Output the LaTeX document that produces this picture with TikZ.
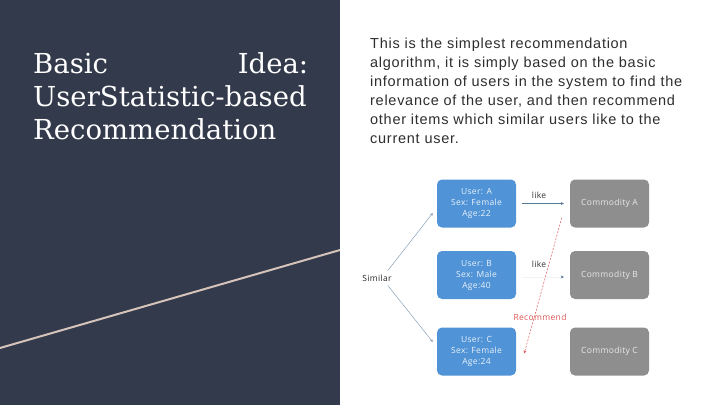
\documentclass[tikz,border=0pt]{standalone}
\usepackage{fontspec}
\setmainfont{Liberation Sans}
\newfontfamily\titlefont{DejaVu Serif}
\newfontfamily\diagfont[LetterSpace=4]{Open Sans}
\newfontfamily\parafont[LetterSpace=5]{Liberation Sans}
\usetikzlibrary{arrows.meta,calc}
\definecolor{panel}{HTML}{323A4B}
\definecolor{beige}{HTML}{D6C4BB}
\definecolor{ublue}{HTML}{5093D6}
\definecolor{cgray}{HTML}{8E8E8E}
\definecolor{arr}{HTML}{5A7A9A}
\definecolor{recred}{HTML}{DD5555}
\tikzset{
  userbox/.style={fill=ublue, rounded corners=5pt, minimum width=79pt, minimum height=48pt, inner sep=0pt,
    align=center, text=white!88!ublue, font=\diagfont\fontsize{8.5}{11}\selectfont},
  combox/.style={fill=cgray, rounded corners=5pt, minimum width=79pt, minimum height=48pt, inner sep=0pt,
    align=center, text=white!80!cgray, font=\diagfont\fontsize{8.5}{11}\selectfont},
  lbl/.style={font=\diagfont\fontsize{8.5}{10}\selectfont, inner sep=0pt},
  likearrow/.style={draw=arr, line width=0.6pt, -{Stealth[length=3pt,width=3pt]}},
  simarrow/.style={draw=arr!70, line width=0.5pt, -{Stealth[length=3pt,width=3pt]}},
}
\begin{document}
\begin{tikzpicture}[x=1pt,y=-1pt]
\useasboundingbox (0,0) rectangle (720,405);
\fill[white] (0,0) rectangle (720,405);
\fill[panel] (0,0) rectangle (340,405);
\draw[beige, line width=2pt] (0,348) -- (340,250);
% title
\node[anchor=north west, inner sep=0pt, text width=275pt, text=white, align=justify,
  font=\titlefont\fontsize{27.5}{33}\selectfont] (title) at (33,52)
  {Basic\hfill Idea:\\UserStatistic-based\\Recommendation};
% paragraph
\node[anchor=north west, inner sep=0pt, text width=345pt, align=left, text=black!82,
  font=\parafont\fontsize{14.5}{19}\selectfont] (para) at (370,38)
  {This is the simplest recommendation\\
   algorithm, it is simply based on the basic\\
   information of users in the system to find the\\
   relevance of the user, and then recommend\\
   other items which similar users like to the\\
   current user.};
% diagram
\node[userbox] (ua) at (476.5,203.5) {User: A\\Sex: Female\\Age:22};
\node[userbox] (ub) at (476.5,275) {User: B\\Sex: Male\\Age:40};
\node[userbox] (uc) at (476.5,351.5) {User: C\\Sex: Female\\Age:24};
\node[combox] (ca) at (609.5,203.5) {Commodity A};
\node[combox] (cb) at (609.5,275) {Commodity B};
\node[combox] (cc) at (609.5,351.5) {Commodity C};
\node[lbl, text=black!85] (sim) at (377,278) {Similar};
\node[lbl, text=black!80] (likea) at (539,195) {like};
\node[lbl, text=black!80] (likeb) at (539,264) {like};
\node[lbl, text=recred] (rec) at (540,317) {Recommend};
\draw[likearrow] ($(ua.east)+(6,0)$) -- ($(ca.west)+(-6,0)$);
\draw[draw=black!5, line width=0.5pt, -{Stealth[length=3pt,width=3pt,color=arr]}] ($(ub.east)+(6,2)$) -- ($(cb.west)+(-6,2)$);
\draw[simarrow] ($(sim.north east)+(-4,-4)$) -- ($(ua.west)+(-4,9.5)$);
\draw[simarrow] ($(sim.south east)+(-4,4)$) -- ($(uc.west)+(-4,-9.5)$);
\draw[recred, line width=0.5pt, dash pattern=on 2pt off 1.5pt, -{Stealth[length=3pt,width=3pt]}]
  ($(ca.south west)+(-8,-10)$) -- ($(uc.east)+(8,2)$);
\end{tikzpicture}
\end{document}
